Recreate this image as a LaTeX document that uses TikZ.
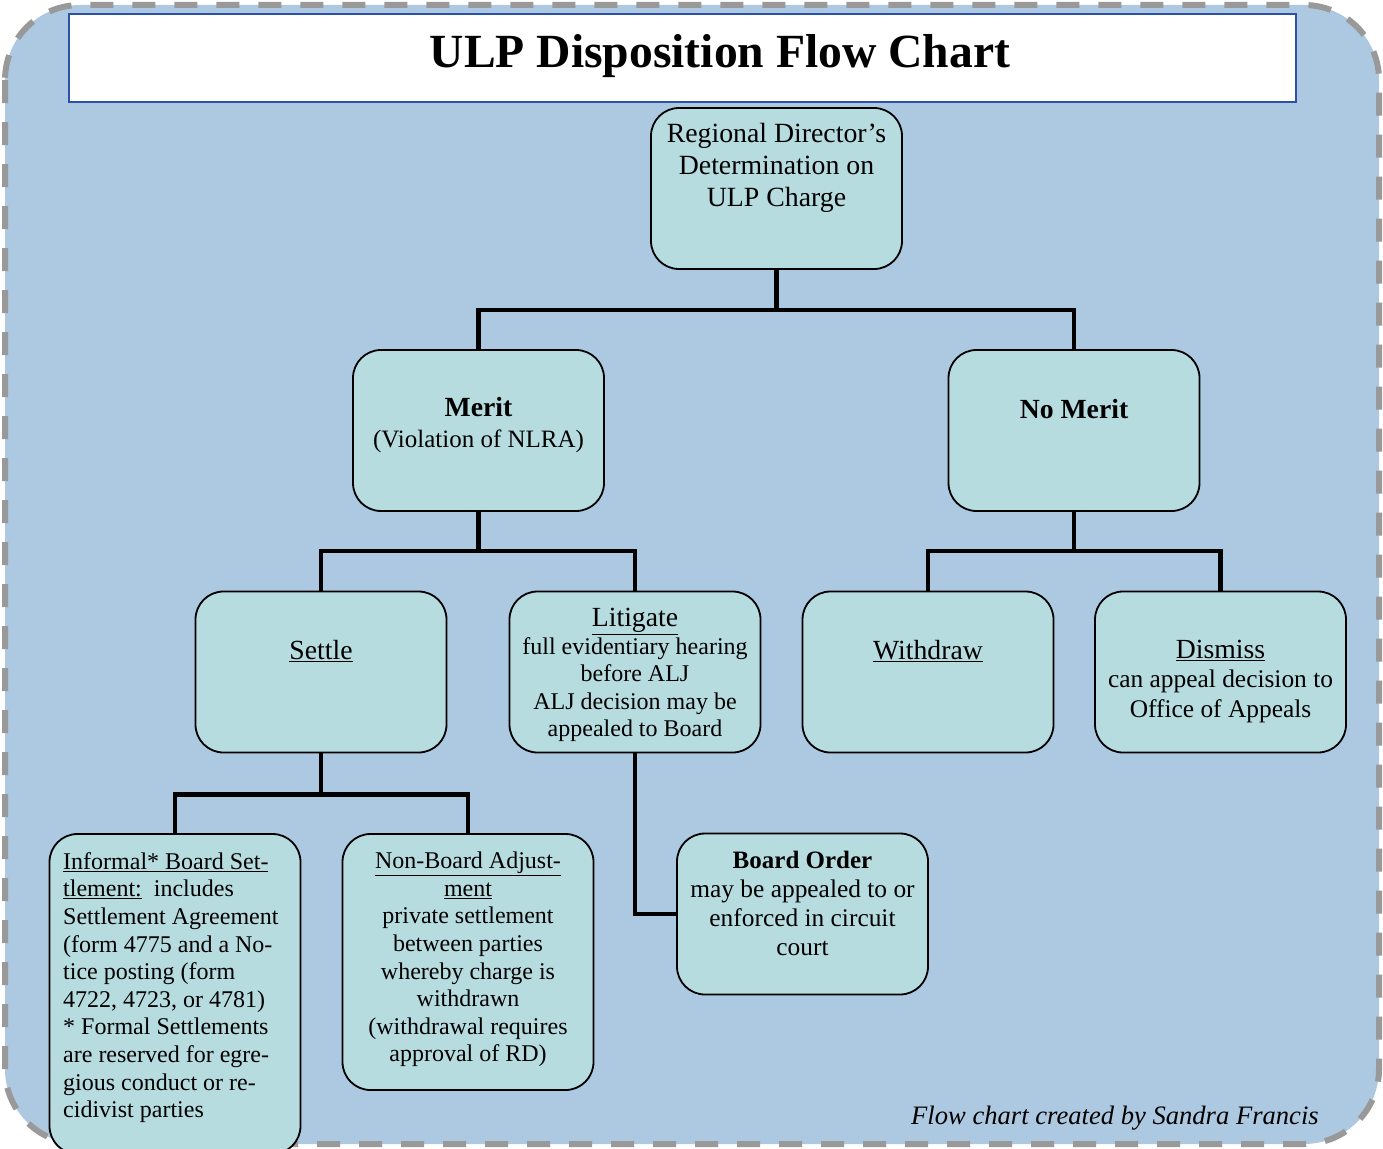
\documentclass[tikz,border=0pt]{standalone}
\usepackage{fontspec}
\setmainfont{Liberation Serif}
\definecolor{bgblue}{HTML}{ADC9E1}
\definecolor{boxfill}{HTML}{B7DCE0}
\definecolor{titleblue}{HTML}{2E50A8}
\definecolor{dashgray}{HTML}{999999}
\newcommand{\fsz}[2]{\fontsize{#1}{#2}\selectfont}
\tikzset{
  box/.style={draw=black, line width=1.8pt, fill=boxfill, rounded corners=28pt,
    minimum width=251pt, minimum height=161pt, inner sep=0pt},
  txt/.style={align=center, inner sep=0pt, font=\fsz{24}{27.6}},
  conn/.style={line width=4.5pt, draw=black},
  head/.style={}
}
\begin{document}
\begin{tikzpicture}[x=1pt,y=-1pt]
\useasboundingbox (0,0) rectangle (1383,1148);
% background
\draw[fill=bgblue, draw=dashgray, line width=6pt, dash pattern=on 23pt off 19pt, rounded corners=75pt]
  (5,5) rectangle (1379,1144);
% title
\node[draw=titleblue, line width=2pt, fill=white, minimum width=1227pt, minimum height=88pt, inner sep=0pt]
  (titlebox) at (682.5,58) {};
\node[inner sep=0pt, font=\bfseries\fsz{47.6}{52}] (title) at (720,56) {ULP Disposition Flow Chart};

% boxes
\node[box] (rd) at (776.5,188.5) {};
\node[box] (merit) at (478.5,430.5) {};
\node[box] (nomerit) at (1074,430.5) {};
\node[box] (settle) at (321,672) {};
\node[box] (litigate) at (635,672) {};
\node[box] (withdraw) at (928,672) {};
\node[box] (dismiss) at (1220.5,672) {};
\node[box, minimum height=320pt] (informal) at (175,994) {};
\node[box, minimum height=256pt] (nonboard) at (468,962) {};
\node[box] (boardorder) at (802.5,914) {};

% connectors
\draw[conn] (rd.south) -- ++(0,40) coordinate (rdj) -| (merit.north);
\draw[conn] (rdj) -| (nomerit.north);
\draw[conn] (merit.south) -- ++(0,39) coordinate (mj) -| (settle.north);
\draw[conn] (mj) -| (litigate.north);
\draw[conn] (nomerit.south) -- ++(0,39) coordinate (nj) -| (withdraw.north);
\draw[conn] (nj) -| (dismiss.north);
\draw[conn] (settle.south) -- ++(0,41) coordinate (sj) -| (informal.north);
\draw[conn] (sj) -| (nonboard.north);
\draw[conn] (litigate.south) |- (boardorder.west);

% texts
\node[txt, font=\fsz{27.8}{32}] (rdt) at (776.5,168) {Regional Director’s\\Determination on\\ULP Charge};
\node[txt, font=\fsz{25}{31}] (meritt) at (478.5,425.5) {{\bfseries\fsz{27.7}{31}Merit}\\(Violation of NLRA)};
\node[txt, font=\bfseries\fsz{27.7}{31}] (nomeritt) at (1074,409) {No Merit};
\node[txt, font=\fsz{27.7}{31}] (settlet) at (321,651) {\underline{Settle}};
\node[txt] (litigatet) at (635,675) {{\fsz{27.7}{30}\underline{Litigate}}\\full evidentiary hearing\\before ALJ\\ALJ decision may be\\appealed to Board};
\node[txt, font=\fsz{27.7}{31}] (withdrawt) at (928,651) {\underline{Withdraw}};
\node[txt, font=\fsz{25.4}{29.3}] (dismisst) at (1220.5,681.5) {{\fsz{27.7}{30}\underline{Dismiss}}\\can appeal decision to\\Office of Appeals};
\node[txt, align=left, anchor=west] (informalt) at (63,987.5) {\underline{Informal* Board Set-}\\\underline{tlement:}\ \ includes\\Settlement Agreement\\(form 4775 and a No-\\tice posting (form\\4722, 4723, or 4781)\\* Formal Settlements\\are reserved for egre-\\gious conduct or re-\\cidivist parties};
\node[txt] (nonboardt) at (468,959.5) {\underline{Non-Board Adjust-}\\\underline{ment}\\private settlement\\between parties\\whereby charge is\\withdrawn\\(withdrawal requires\\approval of RD)};
\node[txt, font=\fsz{25.4}{29}] (boardordert) at (802.5,903.5) {{\bfseries\fsz{25}{29}Board Order}\\may be appealed to or\\enforced in circuit\\court};

% credit
\node[inner sep=0pt, anchor=west, font=\itshape\fsz{26.6}{30}] (credit) at (911,1118) {Flow chart created by Sandra Francis};
\end{tikzpicture}
\end{document}
